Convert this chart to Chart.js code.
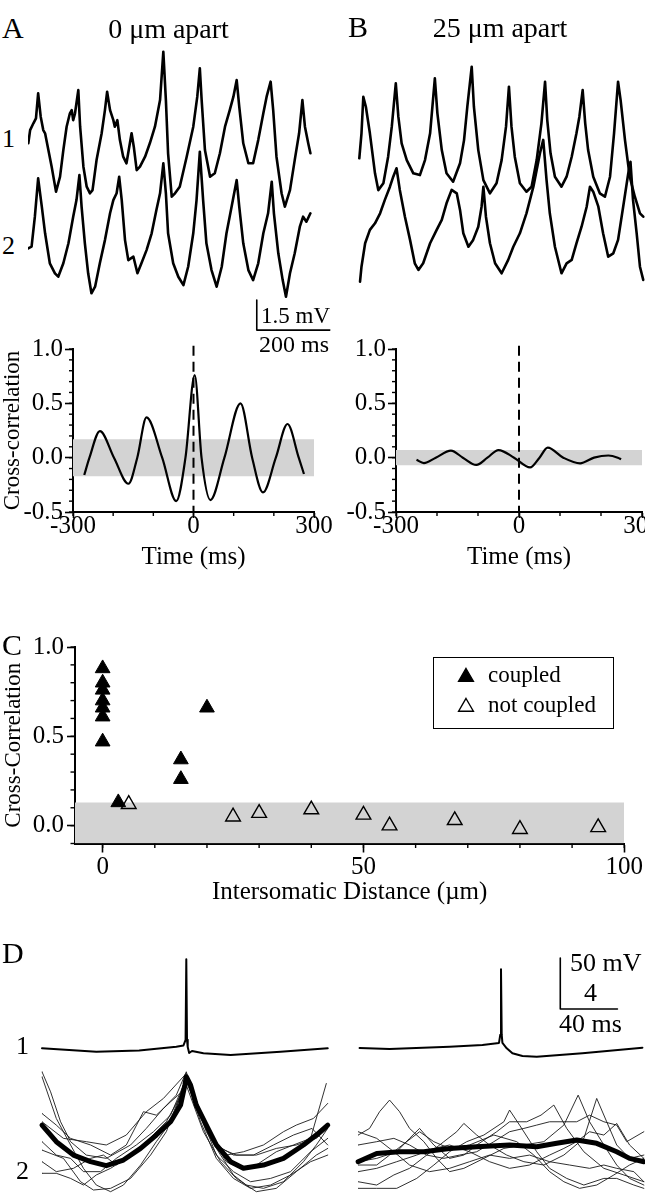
<!DOCTYPE html>
<html>
<head>
<meta charset="utf-8">
<script src="https://cdn.jsdelivr.net/npm/chart.js@4.4.1/dist/chart.umd.min.js"></script>
<style>
html, body { margin: 0; padding: 0; background: #fff; overflow: hidden; width: 645px; height: 1199px; }
body { position: relative; font-family: 'Liberation Serif', 'Times New Roman', serif; color: #000; }
canvas { position: absolute; }
.t { position: absolute; white-space: nowrap; line-height: 1; }
.box { position: absolute; border: 1.5px solid #000; box-sizing: border-box; }
svg { position: absolute; overflow: visible; }
</style>
</head>
<body>
<script>
// ---- data ----
// A / B: membrane potential traces, [time ms, mV]
const traceA1 = [[0,3.17],[5,3.83],[14,4.17],[21,4.42],[27,5.67],[34,4.5],[41,3.83],[46,3.67],[55,2.83],[64,2.0],[76,0.75],[87,1.5],[96,2.83],[105,4.0],[114,4.67],[119,4.83],[123,4.33],[128,4.67],[137,5.83],[142,4.0],[151,2.0],[160,1.0],[169,0.67],[176,0.83],[187,2.33],[201,3.67],[210,4.83],[216,5.75],[224,4.83],[233,4.33],[237,4.0],[244,4.33],[251,3.33],[260,2.5],[269,2.17],[283,3.67],[289,3.0],[297,1.83],[306,2.0],[320,2.5],[333,3.17],[347,4.0],[361,5.33],[370,7.75],[377,5.33],[383,2.67],[393,0.5],[402,0.67],[415,1.0],[434,2.5],[452,4.0],[463,5.5],[470,6.92],[475,5.33],[484,2.83],[498,1.5],[511,1.67],[525,2.67],[539,4.0],[552,4.83],[562,5.5],[571,6.33],[578,5.0],[589,3.17],[603,2.17],[616,2.17],[630,3.33],[644,4.67],[653,5.5],[664,6.25],[671,4.83],[680,2.5],[694,0.67],[703,0],[717,0.83],[730,2.33],[742,3.67],[751,5.33],[758,4.0],[767,3.17],[773,2.67]];
const traceA2 = [[0,2.42],[9,2.5],[18,4.0],[27,5.92],[37,4.5],[46,3.17],[59,1.67],[73,1.17],[82,1.0],[96,1.67],[110,2.67],[123,4.0],[132,4.83],[140,6.08],[146,4.5],[155,2.67],[164,1.17],[173,0.17],[183,0.5],[196,1.67],[210,2.83],[224,4.17],[233,4.83],[242,5.17],[249,6.0],[256,4.83],[265,2.83],[274,1.83],[288,2.0],[299,1.17],[310,1.67],[324,2.33],[338,3.17],[351,4.33],[361,5.17],[370,6.67],[377,5.17],[383,3.17],[397,1.67],[411,1.0],[425,0.58],[438,1.5],[452,3.17],[461,4.83],[470,7.25],[479,4.83],[488,2.67],[502,1.33],[516,0.5],[530,1.5],[543,3.17],[557,4.5],[571,5.83],[578,4.5],[589,2.67],[603,1.33],[616,0.83],[630,1.67],[644,3.17],[657,4.17],[667,5.75],[673,4.17],[685,2.17],[697,0.83],[706,0],[717,1.17],[730,2.17],[744,3.5],[753,4.0],[762,3.75],[773,4.17]];
const traceB1 = [[0,2.92],[6,4.17],[11,6.0],[18,5.5],[29,4.17],[43,2.17],[52,1.33],[66,1.67],[79,3.0],[89,4.5],[100,6.67],[107,5.0],[116,3.67],[130,2.83],[148,2.17],[166,2.08],[180,2.83],[194,4.17],[207,6.92],[214,5.17],[226,3.33],[239,2.17],[257,1.75],[276,2.67],[287,3.83],[296,5.5],[308,7.5],[314,5.5],[326,3.33],[340,1.83],[358,1.17],[376,1.67],[390,2.83],[402,4.5],[410,6.5],[417,4.5],[426,3.0],[440,1.67],[458,1.25],[472,1.5],[486,2.83],[499,4.67],[509,6.75],[515,4.83],[524,3.17],[536,2.0],[554,1.5],[568,2.0],[582,3.0],[595,4.17],[603,5.0],[612,6.33],[619,4.67],[627,3.33],[641,2.0],[659,1.17],[673,1.0],[687,2.0],[698,4.17],[709,6.75],[716,5.83],[728,3.83],[741,2.0],[755,1.0],[769,0.17],[778,0]];
const traceB2 = [[2,0.08],[6,0.83],[16,2.0],[29,2.67],[43,3.0],[57,3.5],[70,4.17],[84,4.83],[93,5.33],[102,5.75],[111,4.67],[125,3.33],[139,2.17],[152,1.0],[162,0.67],[175,1.0],[194,2.0],[212,2.67],[226,3.17],[239,4.0],[253,4.67],[267,4.5],[276,3.67],[285,2.5],[299,1.83],[312,2.17],[326,2.83],[335,3.83],[340,4.83],[347,3.33],[358,2.0],[372,1.0],[390,0.5],[408,1.17],[422,1.83],[440,2.5],[458,3.5],[477,4.83],[495,6.5],[504,7.17],[513,5.17],[522,3.5],[536,1.83],[554,0.5],[568,1.0],[582,1.17],[595,2.0],[609,2.83],[623,3.83],[632,4.83],[641,4.58],[655,3.83],[668,2.5],[682,1.33],[696,1.5],[709,2.17],[723,3.83],[737,5.5],[743,6.08],[750,4.17],[760,2.5],[769,0.83],[778,0.17]];
const scaleA = { ms: 200, mV: 1.5 };

// A / B: cross-correlation, lag ms -> r
const ccLagA = [-272,-259,-233,-198,-162,-140,-117,-78,-43,-20,3,20,42,77,117,146,173,205,234,262,275];
const ccValA = [-0.16,0,0.245,0,-0.24,0,0.37,0,-0.40,0,0.76,0,-0.39,0,0.50,0,-0.32,0,0.31,0,-0.15];
const ccLagB = [-250,-232,-203,-166,-137,-104,-77,-50,-12,27,50,70,108,149,183,218,241,249];
const ccValB = [-0.02,-0.05,0,0.064,0,-0.067,0,0.07,0,-0.09,0,0.092,0,-0.052,0,0.02,0,-0.015];
const bandA = 0.17;
const bandB = 0.07;
const ccXTicks = [-300, 0, 300];
const ccYTicks = [-0.5, 0, 0.5, 1.0];

// C: cross-correlation vs intersomatic distance (um)
const coupledDist = [0, 0, 0, 0, 0, 0, 0, 3, 15, 15, 20];
const coupledCC = [0.88, 0.80, 0.76, 0.70, 0.66, 0.61, 0.47, 0.13, 0.37, 0.26, 0.66];
const notCoupledDist = [5, 25, 30, 40, 50, 55, 67.5, 80, 95];
const notCoupledCC = [0.12, 0.05, 0.07, 0.09, 0.06, 0.00, 0.03, -0.02, -0.01];
const bandC = 0.13;
const cXTicks = [0, 50, 100];
const cYTicks = [0, 0.5, 1.0];

// D: spike-triggered traces, [time from spike ms, mV]
const spikeLeft = [[-101,1.7],[-63,-1.7],[-33,-0.5],[-7,3.2],[-2,4.4],[-0.5,10],[0,88.9],[0.5,10],[1,2.9],[2,-2.9],[4,-1.0],[12,-3.2],[31,-4.9],[66,-1.7],[99,1.7]];
const spikeRight = [[-99,2.0],[-78,1.0],[-36,3.2],[-13,4.9],[-1.4,6.9],[-0.5,15],[0,79.1],[0.5,15],[1,6.9],[4,1.7],[8,-3.2],[15,-5.9],[25,-6.6],[57,-3.2],[99,2.3]];
const avgLeft = [[-101,2.87],[-91,1.57],[-79,0.52],[-67,0],[-56,-0.31],[-44,0.13],[-32,1.04],[-21,2.09],[-11,3.13],[-4,4.44],[-1,6.0],[0,6.66],[3,6.0],[7,4.44],[14,2.87],[21,1.31],[31,0],[40,-0.52],[54,-0.26],[68,0.26],[82,1.31],[91,2.09],[99,2.87]];
const sweepsLeft = [
  [[-101,7.05],[-95,5.48],[-88,3.13],[-81,1.57],[-70,0.52],[-56,0.26],[-39,1.31],[-28,2.61],[-16,4.18],[-7,5.22],[0,7.05],[7,4.44],[14,2.35],[24,0.52],[33,-1.04],[42,-1.83],[54,-2.09],[68,-1.57],[82,0],[91,1.31],[99,2.61]],
  [[-101,6.66],[-91,3.39],[-81,1.31],[-72,-0.52],[-63,-1.83],[-53,-2.35],[-44,-1.83],[-32,-0.26],[-21,1.57],[-9,3.39],[0,6.79],[10,3.92],[19,1.57],[28,0],[38,-0.52],[49,-0.26],[63,0.78],[75,1.31],[87,1.83],[98,6.13]],
  [[-101,3.78],[-91,2.87],[-81,1.83],[-67,1.31],[-53,0.52],[-42,1.31],[-30,3.92],[-21,3.65],[-11,4.7],[-3,5.48],[0,6.79],[8,4.18],[18,1.83],[28,0.52],[40,0.78],[54,1.31],[68,2.35],[77,2.87],[89,3.39],[99,4.57]],
  [[-101,1.57],[-91,0.52],[-81,0.26],[-72,-0.78],[-60,-0.78],[-49,0.26],[-35,1.31],[-23,2.35],[-11,3.65],[0,6.53],[10,3.65],[21,0.52],[33,-0.78],[45,-1.57],[59,-1.31],[73,-0.78],[87,0.78],[99,1.83]],
  [[-101,0],[-91,-0.78],[-79,-0.52],[-67,0.26],[-58,0.52],[-49,-0.26],[-39,0.52],[-25,1.83],[-11,3.13],[0,6.26],[12,3.13],[24,1.04],[35,0.52],[47,0.52],[61,1.31],[75,2.09],[88,2.61],[99,1.31]],
  [[-101,-0.91],[-91,-0.91],[-81,-1.31],[-72,-1.83],[-63,-1.04],[-53,-0.52],[-42,0.26],[-28,1.57],[-14,3.13],[0,6.0],[12,2.35],[24,0],[35,-1.31],[49,-2.35],[63,-2.09],[77,-0.78],[91,0.52],[99,1.04]],
  [[-101,0.91],[-86,0.26],[-74,-1.57],[-65,-2.22],[-53,-2.09],[-39,-1.31],[-25,0.52],[-14,2.35],[0,6.53],[10,3.13],[21,0.26],[33,-1.31],[45,-2.09],[59,-1.83],[73,-1.04],[87,0],[99,0.52]],
  [[-101,3.13],[-86,1.83],[-70,1.57],[-56,1.31],[-42,2.09],[-28,3.92],[-16,4.96],[0,6.92],[10,3.92],[21,1.31],[33,0.52],[49,0.52],[63,1.04],[77,1.31],[91,1.83],[99,2.61]]
];
const avgRight = [[-100,0],[-87,0.65],[-71,0.78],[-54,0.78],[-36,1.04],[-17,1.17],[6,1.31],[25,1.17],[39,1.44],[53,1.7],[67,1.44],[81,0.78],[90,0.26],[100,0]];
const sweepsRight = [
  [[-100,2.09],[-92,2.61],[-85,3.92],[-78,4.83],[-71,3.92],[-64,2.61],[-54,1.57],[-45,0.26],[-36,-0.78],[-26,-0.52],[-12,0.26],[2,1.04],[16,1.31],[30,1.57],[44,2.87],[54,5.22],[62,3.13],[72,1.31],[81,-0.26],[90,-1.31],[100,-1.83]],
  [[-100,0],[-87,0.26],[-73,0.78],[-64,1.83],[-57,2.61],[-47,1.31],[-36,0.26],[-26,0.52],[-17,1.31],[-3,2.35],[6,3.13],[18,3.13],[28,3.65],[37,4.44],[46,2.61],[58,0.78],[72,-0.52],[86,-1.04],[100,-1.57]],
  [[-100,-1.57],[-87,-1.83],[-75,-1.04],[-64,-0.52],[-52,0.52],[-40,1.57],[-31,2.35],[-26,3.0],[-17,2.09],[-8,1.31],[4,0.52],[16,0],[30,-0.26],[44,0.52],[58,1.83],[67,4.96],[74,3.13],[81,1.31],[90,0.26],[100,0.52]],
  [[-100,-2.09],[-87,-2.09],[-73,-2.09],[-59,-1.31],[-47,-0.26],[-36,0.78],[-24,1.57],[-12,2.09],[2,3.13],[6,4.05],[13,2.87],[25,0.78],[34,-0.52],[46,-1.31],[58,-1.83],[72,-1.31],[81,-1.31],[93,-1.83],[100,-2.09]],
  [[-100,1.31],[-87,1.57],[-75,1.83],[-64,1.31],[-52,0.52],[-40,0.26],[-29,0.52],[-17,0.78],[-5,1.57],[6,2.35],[16,2.61],[25,2.87],[34,3.13],[44,3.13],[53,3.13],[62,3.65],[72,3.13],[81,2.87],[88,1.57],[100,2.35]],
  [[-100,-0.78],[-87,-0.52],[-73,0],[-59,0.52],[-47,1.04],[-36,1.31],[-22,0.78],[-8,0],[6,-0.52],[20,-0.26],[34,0.52],[44,1.04],[53,1.57],[62,2.35],[72,2.09],[81,3.0],[90,1.31],[100,0.26]],
  [[-100,2.35],[-87,1.83],[-75,0.78],[-64,-0.26],[-50,-0.78],[-36,-0.52],[-22,0],[-8,0.52],[6,0.26],[20,0.52],[34,0],[48,-0.26],[62,-0.52],[72,-0.26],[81,-0.52],[93,-0.78],[100,-1.57]],
  [[-100,-0.26],[-87,-0.26],[-78,0.52],[-66,1.57],[-57,2.35],[-47,1.57],[-36,1.04],[-22,1.31],[-5,2.09],[11,1.57],[23,0.52],[34,-0.78],[44,-1.57],[55,-2.09],[67,-1.83],[79,-1.04],[90,-0.26],[100,0.26]]
];
const scaleD = { ms: 40, mV: 50 };

// ---- layout helpers ----
Chart.defaults.font.family = "'Liberation Serif', 'Times New Roman', serif";
Chart.defaults.color = '#000';
const serif = "'Liberation Serif', 'Times New Roman', serif";
const axisFont = { family: serif, size: 25, lineHeight: 1 };
const yTitleFont = { family: serif, size: 23, lineHeight: 1 };

const minorTicks = {
  id: 'minorTicks',
  afterDraw(chart, args, o) {
    const ctx = chart.ctx, area = chart.chartArea;
    ctx.save();
    ctx.strokeStyle = '#000';
    ctx.lineWidth = 1.4;
    ['x', 'y'].forEach(key => {
      const m = o[key];
      if (!m) return;
      const s = chart.scales[key];
      const first = Math.ceil(s.min / m.step - 1e-9), last = Math.floor(s.max / m.step + 1e-9);
      for (let k = first; k <= last; k++) {
        const p = s.getPixelForValue(k * m.step);
        ctx.beginPath();
        if (key === 'x') { ctx.moveTo(p, area.bottom); ctx.lineTo(p, area.bottom + m.len); }
        else { ctx.moveTo(area.left, p); ctx.lineTo(area.left - m.len, p); }
        ctx.stroke();
      }
    });
    ctx.restore();
  }
};
Chart.register(minorTicks);

function mkCanvas(b) {
  const c = document.createElement('canvas');
  c.width = b.w; c.height = b.h;
  c.style.left = b.left + 'px'; c.style.top = b.top + 'px';
  document.body.appendChild(c);
  return c;
}

function txt(s, x, base, size, align) {
  const d = document.createElement('div');
  d.className = 't';
  d.textContent = s;
  d.style.fontSize = size + 'px';
  d.style.top = (base - 0.8375 * size) + 'px';
  if (align === 'center') { d.style.left = (x - 200) + 'px'; d.style.width = '400px'; d.style.textAlign = 'center'; }
  else d.style.left = x + 'px';
  document.body.appendChild(d);
}

const pts = arr => arr.map(p => ({ x: p[0], y: p[1] }));
const zip = (xs, ys) => xs.map((x, i) => ({ x: x, y: ys[i] }));
const scaleBar = (t0, v0, bar) => [[t0, v0 + bar.mV], [t0, v0], [t0 + bar.ms, v0]];

// traces without visible axes: each row gets its own hidden y axis
function traceChart(box, xZero, msPerPx, rows) {
  const scales = {
    x: { type: 'linear', display: false, min: (box.left - xZero) * msPerPx, max: (box.left + box.w - xZero) * msPerPx }
  };
  const datasets = rows.map(r => {
    if (!scales[r.axis]) scales[r.axis] = { type: 'linear', display: false, min: (r.zero - box.top - box.h) * r.perPx, max: (r.zero - box.top) * r.perPx };
    return { data: pts(r.data), yAxisID: r.axis, borderColor: r.color || '#000', borderWidth: r.lw, pointRadius: 0, tension: 0, fill: false, borderJoinStyle: 'round', borderCapStyle: 'round', clip: false, order: r.order || 0 };
  });
  new Chart(mkCanvas(box), {
    type: 'line',
    data: { datasets },
    options: { animation: false, responsive: false, events: [], layout: { padding: 0 }, plugins: { legend: { display: false }, tooltip: { enabled: false } }, scales }
  });
}

function axisCfg(ticksArr, fmt, extra) {
  return Object.assign({
    type: 'linear',
    border: { display: true, color: '#000', width: 2 },
    grid: { display: true, drawOnChartArea: false, drawTicks: true, tickColor: '#000', tickWidth: 1.6 },
    afterBuildTicks: s => { s.ticks = ticksArr.map(v => ({ value: v })); },
    ticks: { color: '#000', font: axisFont, maxRotation: 0, autoSkip: false, callback: fmt }
  }, extra);
}

function ccChart(box, lag, val, band, yTitle) {
  const area = { left: 73, top: 19, right: 26, xh: 63 };
  const y = axisCfg(ccYTicks, v => v.toFixed(1), { min: -0.5, max: 1.0, afterFit: s => { s.width = area.left; } });
  y.grid.tickLength = 8; y.ticks.padding = 2;
  y.title = { display: !!yTitle, text: yTitle || '', color: '#000', font: yTitleFont, padding: { top: 1, bottom: 0 } };
  const x = axisCfg(ccXTicks, v => String(v), { min: -300, max: 300, afterFit: s => { s.height = area.xh; } });
  x.grid.tickLength = 6; x.ticks.padding = -4.5;
  x.title = { display: true, text: 'Time (ms)', color: '#000', font: axisFont, padding: { top: 0, bottom: 5.5 } };
  new Chart(mkCanvas(box), {
    type: 'line',
    data: {
      datasets: [
        { data: [{ x: -300, y: band }, { x: 300, y: band }], fill: { value: -band }, backgroundColor: '#d3d3d3', borderWidth: 0, pointRadius: 0, order: 5 },
        { data: zip(lag, val), borderColor: '#000', borderWidth: 2.2, pointRadius: 0, cubicInterpolationMode: 'monotone', fill: false, order: 1 },
        { data: [{ x: 0, y: 1.03 }, { x: 0, y: -0.5 }], borderColor: '#000', borderWidth: 2, borderDash: [10, 6], pointRadius: 0, fill: false, clip: false, order: 0 }
      ]
    },
    options: {
      animation: false, responsive: false, events: [],
      layout: { padding: { top: area.top, right: area.right, left: 0, bottom: 0 } },
      plugins: { legend: { display: false }, tooltip: { enabled: false }, minorTicks: { x: { step: 100, len: 4 }, y: { step: 0.1, len: 4 } } },
      scales: { x, y }
    }
  });
}

// ---- panel A / B traces ----
traceChart({ left: 28, top: 40, w: 305, h: 300 }, 28.3, 2.74, [
  { data: traceA1, axis: 'y1', zero: 206.7, perPx: 0.05, lw: 2.6 },
  { data: traceA2, axis: 'y2', zero: 296.7, perPx: 0.05, lw: 2.6 },
  { data: scaleBar(626, -1.67, scaleA), axis: 'y2', zero: 296.7, perPx: 0.05, lw: 1.6 }
]);
traceChart({ left: 355, top: 40, w: 290, h: 260 }, 359.3, 2.74, [
  { data: traceB1, axis: 'y1', zero: 216.7, perPx: 0.05, lw: 2.6 },
  { data: traceB2, axis: 'y2', zero: 283.3, perPx: 0.05, lw: 2.6 }
]);

// ---- cross-correlograms ----
ccChart({ left: 0, top: 330, w: 340, h: 245 }, ccLagA, ccValA, bandA, 'Cross-correlation');
ccChart({ left: 323, top: 330, w: 345, h: 245 }, ccLagB, ccValB, bandB, null);

// ---- panel C ----
(function () {
  const xMin = -5.3;
  const x = axisCfg(cXTicks, v => String(v), { min: xMin, max: 100, afterFit: s => { s.height = 66.5; } });
  x.grid.tickLength = 9; x.ticks.padding = 2;
  x.title = { display: true, text: 'Intersomatic Distance (\u00b5m)', color: '#000', font: axisFont, padding: { top: 0, bottom: 5.5 } };
  const y = axisCfg(cYTicks, v => v.toFixed(1), { min: -0.1, max: 1.0, afterFit: s => { s.width = 75; } });
  y.grid.tickLength = 8; y.ticks.padding = 3;
  y.title = { display: true, text: 'Cross-Correlation', color: '#000', font: yTitleFont, padding: { top: 2, bottom: 0 } };
  new Chart(mkCanvas({ left: 0, top: 600, w: 645, h: 310 }), {
    type: 'line',
    data: {
      datasets: [
        { data: [{ x: xMin, y: bandC }, { x: 100, y: bandC }], fill: 'start', backgroundColor: '#d3d3d3', borderWidth: 0, pointRadius: 0, order: 5 },
        { data: zip(notCoupledDist, notCoupledCC), showLine: false, pointStyle: 'triangle', pointRadius: 8.5, pointBackgroundColor: 'rgba(0,0,0,0)', pointBorderColor: '#000', pointBorderWidth: 1.4, order: 1 },
        { data: zip(coupledDist, coupledCC), showLine: false, pointStyle: 'triangle', pointRadius: 8.5, pointBackgroundColor: '#000', pointBorderColor: '#000', pointBorderWidth: 1, order: 0 }
      ]
    },
    options: {
      animation: false, responsive: false, events: [],
      layout: { padding: { top: 47, right: 20, left: 0, bottom: 0 } },
      plugins: { legend: { display: false }, tooltip: { enabled: false }, minorTicks: { x: { step: 10, len: 4.5 }, y: { step: 0.1, len: 4.5 } } },
      scales: { x, y }
    }
  });
})();

// ---- panel D ----
traceChart({ left: 36, top: 940, w: 300, h: 259 }, 186.3, 0.70, [
  { data: spikeLeft, axis: 'y1', zero: 1050, perPx: 0.98, lw: 2 },
  ...sweepsLeft.map(s => ({ data: s, axis: 'y2', zero: 1161.7, perPx: 0.0784, lw: 0.9, color: '#1a1a1a', order: 2 })),
  { data: avgLeft, axis: 'y2', zero: 1161.7, perPx: 0.0784, lw: 5, order: 0 }
]);
traceChart({ left: 355, top: 940, w: 290, h: 259 }, 501, 0.70, [
  { data: spikeRight, axis: 'y1', zero: 1050, perPx: 0.98, lw: 2 },
  { data: scaleBar(41.5, 40.2, scaleD), axis: 'y1', zero: 1050, perPx: 0.98, lw: 1.6 },
  ...sweepsRight.map(s => ({ data: s, axis: 'y2', zero: 1161.7, perPx: 0.0784, lw: 0.9, color: '#1a1a1a', order: 2 })),
  { data: avgRight, axis: 'y2', zero: 1161.7, perPx: 0.0784, lw: 5, order: 0 }
]);

// ---- text ----
txt('A', 2, 38, 30);
txt('0 \u03bcm apart', 168.5, 38, 28, 'center');
txt('B', 348, 37, 30);
txt('25 \u03bcm apart', 500, 37, 28, 'center');
txt('1', 2, 148, 26);
txt('2', 2, 255, 26);
txt('1.5 mV', 261, 323, 23);
txt('200 ms', 259, 352, 24);
txt('C', 2, 655, 30);
txt('D', 2, 963, 30);
txt('1', 16, 1055, 26);
txt('2', 16, 1180, 26);
txt('50 mV', 570, 972, 26);
txt('4', 584, 1002, 26);
txt('40 ms', 559, 1033, 26);

// legend of C
(function () {
  const b = document.createElement('div');
  b.className = 'box';
  Object.assign(b.style, { left: '433px', top: '657px', width: '181px', height: '72px' });
  document.body.appendChild(b);
  const ns = 'http://www.w3.org/2000/svg';
  [[677, '#000'], [707, 'none']].forEach(([cy, fillc]) => {
    const s = document.createElementNS(ns, 'svg');
    s.setAttribute('width', '20'); s.setAttribute('height', '20');
    s.style.left = '456px'; s.style.top = (cy - 10) + 'px';
    const p = document.createElementNS(ns, 'polygon');
    p.setAttribute('points', '10,1.5 17.4,14.25 2.6,14.25');
    p.setAttribute('fill', fillc); p.setAttribute('stroke', '#000'); p.setAttribute('stroke-width', '1.4');
    s.appendChild(p);
    document.body.appendChild(s);
  });
  txt('coupled', 488, 682, 23);
  txt('not coupled', 488, 712, 23);
})();
</script>
</body>
</html>
